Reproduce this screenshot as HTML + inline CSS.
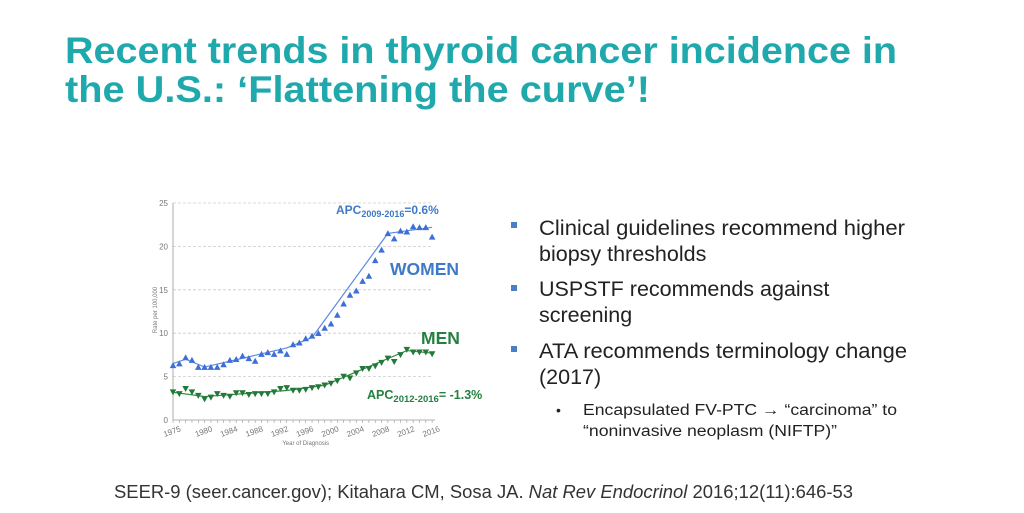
<!DOCTYPE html>
<html><head><meta charset="utf-8"><style>
html,body{margin:0;padding:0;background:#fff;}
svg{display:block;}
</style></head><body>
<svg id="s" width="1024" height="513" xmlns="http://www.w3.org/2000/svg" font-family="Liberation Sans, Arial, sans-serif">
<rect width="1024" height="513" fill="#fff"/>
<text x="65" y="63" font-size="37" font-weight="bold" fill="#1fa9ad" textLength="832" lengthAdjust="spacingAndGlyphs">Recent trends in thyroid cancer incidence in</text>
<text x="65" y="102" font-size="37" font-weight="bold" fill="#1fa9ad" textLength="585" lengthAdjust="spacingAndGlyphs">the U.S.: ‘Flattening the curve’!</text>

<g id="chart"></g>

<g fill="#222" font-size="21.5">
<rect x="511" y="222" width="6" height="6" fill="#4a7fc8"/>
<text x="539" y="235" textLength="366" lengthAdjust="spacingAndGlyphs">Clinical guidelines recommend higher</text>
<text x="539" y="261">biopsy thresholds</text>
<rect x="511" y="285" width="6" height="6" fill="#4a7fc8"/>
<text x="539" y="296">USPSTF recommends against</text>
<text x="539" y="322">screening</text>
<rect x="511" y="346" width="6" height="6" fill="#4a7fc8"/>
<text x="539" y="358" textLength="368" lengthAdjust="spacingAndGlyphs">ATA recommends terminology change</text>
<text x="539" y="384">(2017)</text>
<text x="556" y="415" font-size="14">•</text>
<text x="583" y="415" font-size="15.5" textLength="314" lengthAdjust="spacingAndGlyphs">Encapsulated FV-PTC → “carcinoma” to</text>
<text x="583" y="436" font-size="15.5" textLength="254" lengthAdjust="spacingAndGlyphs">“noninvasive neoplasm (NIFTP)”</text>
</g>
<text x="114" y="498" font-size="18" fill="#333" textLength="739" lengthAdjust="spacingAndGlyphs">SEER-9 (seer.cancer.gov); Kitahara CM, Sosa JA. <tspan font-style="italic">Nat Rev Endocrinol</tspan> 2016;12(11):646-53</text>
</svg>
<script>
var g=document.getElementById('chart'),NS='http://www.w3.org/2000/svg';
function el(t,a,txt){var e=document.createElementNS(NS,t);for(var k in a)e.setAttribute(k,a[k]);if(txt)e.textContent=txt;g.appendChild(e);return e;}
var X0=173,XS=6.32,Y0=420,YS=8.68;
function X(y){return X0+(y-1975)*XS}function Y(v){return Y0-v*YS}
for(var v=0;v<=25;v+=5){if(v>0)el('line',{x1:X0,x2:432,y1:Y(v),y2:Y(v),stroke:'#ccc','stroke-dasharray':'3,2','stroke-width':0.8});
el('text',{x:X0-5,y:Y(v)+3,'font-size':8,fill:'#777','text-anchor':'end'},''+v);}
el('line',{x1:X0,x2:X0,y1:Y(25),y2:Y0,stroke:'#999','stroke-width':0.8});
el('line',{x1:X0,x2:435,y1:Y0,y2:Y0,stroke:'#999','stroke-width':0.8});
for(var yr=1975;yr<=2016;yr++){el('line',{x1:X(yr),x2:X(yr),y1:Y0,y2:Y0+3,stroke:'#999','stroke-width':0.6});}
for(var yr=1975;yr<=2016;yr+=(yr==1975?5:4)){var t=el('text',{x:X(yr),y:Y0+14,'font-size':8,fill:'#777','text-anchor':'middle',transform:'rotate(-20 '+X(yr)+' '+(Y0+14)+')'},''+yr);}
el('text',{x:X(1996),y:Y0+25,'font-size':6,fill:'#777','text-anchor':'middle'},'Year of Diagnosis');
el('text',{x:157,y:310,'font-size':6,fill:'#777','text-anchor':'middle',transform:'rotate(-90 157 310)'},'Rate per 100,000');
var W=[6.3,6.5,7.2,6.9,6.1,6.1,6.1,6.1,6.4,6.9,7.0,7.4,7.1,6.8,7.6,7.8,7.6,8.0,7.6,8.7,8.9,9.4,9.7,10.0,10.6,11.1,12.1,13.4,14.4,14.9,16.0,16.6,18.4,19.6,21.5,20.9,21.8,21.7,22.3,22.2,22.2,21.1];
var M=[3.2,3.0,3.6,3.2,2.8,2.4,2.6,3.0,2.8,2.7,3.1,3.1,2.9,3.0,3.0,3.0,3.2,3.6,3.7,3.4,3.4,3.5,3.7,3.8,4.0,4.2,4.5,5.0,4.8,5.4,5.9,5.9,6.2,6.6,7.1,6.7,7.5,8.1,7.8,7.8,7.8,7.6];
var wf=[[1975,6.5],[1977,7.0],[1980,6.1],[1993,8.3],[1997,9.5],[2009,21.5],[2016,22.2]];
var mf=[[1975,3.2],[1980,2.7],[1993,3.4],[1999,4.0],[2012,8.0],[2016,7.7]];
function pl(f,c){el('polyline',{points:f.map(function(p){return X(p[0])+','+Y(p[1])}).join(' '),fill:'none',stroke:c,'stroke-width':1.2});}
pl(wf,'#5b8be0');pl(mf,'#2f8a3e');
for(var i=0;i<42;i++){var x=X(1975+i),y=Y(W[i]);
el('polygon',{points:(x-3.3)+','+(y+2.8)+' '+(x+3.3)+','+(y+2.8)+' '+x+','+(y-3.2),fill:'#3d6fd6'});
y=Y(M[i]);el('polygon',{points:(x-3.3)+','+(y-2.8)+' '+(x+3.3)+','+(y-2.8)+' '+x+','+(y+3.2),fill:'#23793a'});}
var t=el('text',{x:336,y:214,'font-size':12,'font-weight':'bold',fill:'#3f79c8'});t.innerHTML='APC<tspan font-size="9" dy="3">2009-2016</tspan><tspan dy="-3">=0.6%</tspan>';
el('text',{x:390,y:275,'font-size':17.5,'font-weight':'bold',fill:'#3f79c8'},'WOMEN');
el('text',{x:421,y:344,'font-size':17.5,'font-weight':'bold',fill:'#238040'},'MEN');
t=el('text',{x:367,y:399,'font-size':12.5,'font-weight':'bold',fill:'#238040'});t.innerHTML='APC<tspan font-size="9.5" dy="3">2012-2016</tspan><tspan dy="-3">= -1.3%</tspan>';
</script>
</body></html>
